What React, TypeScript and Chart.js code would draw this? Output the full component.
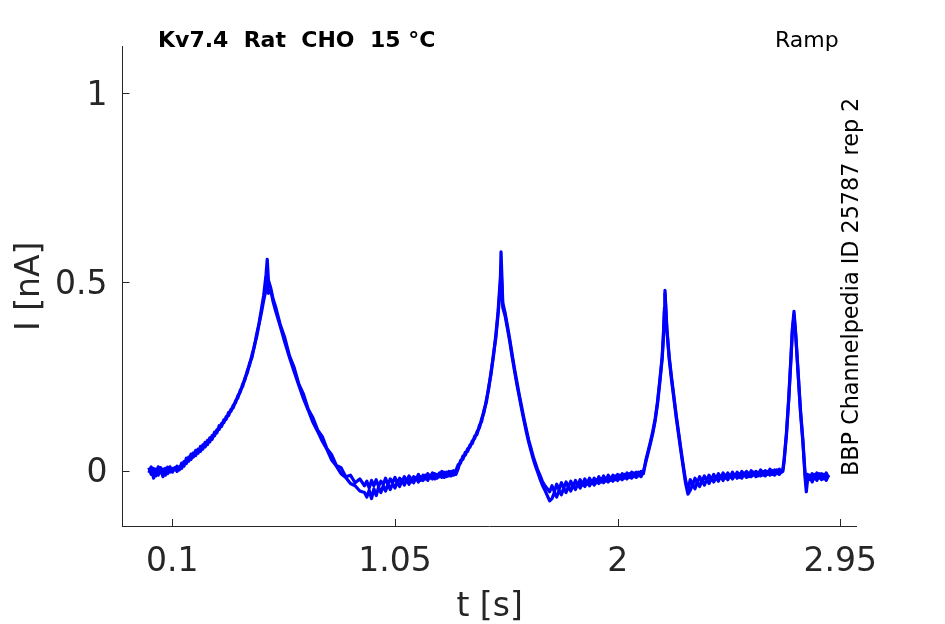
import React, { useEffect, useRef } from "react";
import { Chart, registerables } from "chart.js";

Chart.register(...registerables);

const TITLE = "Kv7.4  Rat  CHO  15 °C";
const PROTOCOL = "Ramp";
const SOURCE = "BBP Channelpedia ID 25787 rep 2";
const X_LABEL = "t [s]";
const Y_LABEL = "I [nA]";
const X_TICKS = [0.1, 1.05, 2, 2.95];
const X_TICK_LABELS = ["0.1", "1.05", "2", "2.95"];
const Y_TICKS = [0, 0.5, 1];
const Y_TICK_LABELS = ["0", "0.5", "1"];
const X_RANGE = [-0.1125, 3.02];
const Y_RANGE = [-0.1467, 1.1236];

// time of each sample [s]
const timeS = [
  0.00, 0.01, 0.02, 0.03, 0.04, 0.05, 0.06, 0.07, 0.08, 0.09, 0.10, 0.11,
  0.12, 0.13, 0.14, 0.15, 0.16, 0.17, 0.18, 0.19, 0.20, 0.21, 0.22, 0.23, 0.24, 0.25, 0.26, 0.27, 0.28, 0.29, 0.30, 0.31, 0.32, 0.33, 0.34, 0.35, 0.36, 0.37, 0.38, 0.39, 0.40,
  0.41, 0.42, 0.43, 0.44, 0.45, 0.46, 0.47, 0.48, 0.49, 0.50, 0.505,
  0.51, 0.52, 0.53, 0.54, 0.56, 0.58, 0.60, 0.62, 0.64, 0.66, 0.68, 0.70, 0.72, 0.74, 0.76, 0.78, 0.80, 0.82, 0.84, 0.86, 0.88, 0.90, 0.92,
  0.93, 0.94, 0.95, 0.96, 0.97, 0.98, 0.99, 1.00, 1.01, 1.02, 1.03, 1.04, 1.05, 1.06, 1.07, 1.08, 1.09, 1.10, 1.11, 1.12, 1.13, 1.14, 1.15, 1.16, 1.17, 1.18, 1.19, 1.20, 1.21, 1.22, 1.23, 1.24, 1.25, 1.26, 1.27, 1.28, 1.29, 1.30, 1.31,
  1.32, 1.33, 1.34, 1.35, 1.36, 1.37, 1.38, 1.39, 1.40, 1.41, 1.42, 1.43, 1.44, 1.45, 1.46, 1.47, 1.48, 1.49, 1.50, 1.5025,
  1.51, 1.52, 1.53, 1.54, 1.55, 1.56, 1.57, 1.58, 1.59, 1.60, 1.61, 1.62, 1.63, 1.64, 1.65, 1.66, 1.67, 1.68, 1.69, 1.70, 1.71,
  1.72, 1.73, 1.74, 1.75, 1.76, 1.77, 1.78, 1.79, 1.80, 1.81, 1.82, 1.83, 1.84, 1.85, 1.86, 1.87, 1.88, 1.89, 1.90, 1.91, 1.92, 1.93, 1.94, 1.95, 1.96, 1.97, 1.98, 1.99, 2.00, 2.01, 2.02, 2.03, 2.04, 2.05, 2.06, 2.07, 2.08, 2.09, 2.10, 2.11,
  2.12, 2.13, 2.14, 2.15, 2.16, 2.17, 2.18, 2.19, 2.195, 2.20, 2.202,
  2.21, 2.22, 2.23, 2.24, 2.25, 2.26, 2.27, 2.28, 2.29, 2.30,
  2.31, 2.32, 2.33, 2.34, 2.35, 2.36, 2.37, 2.38, 2.39, 2.40, 2.41, 2.42, 2.43, 2.44, 2.45, 2.46, 2.47, 2.48, 2.49, 2.50, 2.51, 2.52, 2.53, 2.54, 2.55, 2.56, 2.57, 2.58, 2.59, 2.60, 2.61, 2.62, 2.63, 2.64, 2.65, 2.66, 2.67, 2.68, 2.69, 2.70,
  2.705, 2.71, 2.72, 2.73, 2.74, 2.745, 2.7525,
  2.76, 2.77, 2.78, 2.79, 2.80, 2.805,
  2.81, 2.82, 2.83, 2.84, 2.85, 2.86, 2.87, 2.88, 2.89, 2.90,
];

// current, sweep 1 [nA]
const sweep1 = [
  0.008, -0.010, 0.006, -0.014, 0.010, -0.006, 0.004, -0.012, 0.009, -0.004, 0.006, 0.002,
  0.012, 0.002, 0.020, 0.012, 0.033, 0.025, 0.044, 0.036, 0.054, 0.046, 0.064, 0.057, 0.075, 0.069, 0.087, 0.083, 0.102, 0.100, 0.119, 0.117, 0.135, 0.136, 0.154, 0.157, 0.173, 0.180, 0.199, 0.208, 0.229,
  0.241, 0.265, 0.281, 0.307, 0.328, 0.362, 0.390, 0.428, 0.465, 0.520, 0.560,
  0.505, 0.484, 0.455, 0.436, 0.388, 0.352, 0.304, 0.273, 0.229, 0.202, 0.163, 0.140, 0.108, 0.090, 0.058, 0.042, 0.014, 0.008, -0.016, -0.012, -0.032, -0.022, -0.040,
  -0.028, -0.046, -0.026, -0.040, -0.024, -0.042, -0.028, -0.036, -0.020, -0.038, -0.022, -0.032, -0.018, -0.034, -0.020, -0.030, -0.016, -0.028, -0.014, -0.030, -0.016, -0.024, -0.010, -0.026, -0.012, -0.022, -0.008, -0.020, -0.006, -0.022, -0.010, -0.016, -0.002, -0.018, -0.004, -0.014, -0.002, -0.012, 0.000,
  0.016, 0.020, 0.039, 0.041, 0.058, 0.062, 0.079, 0.085, 0.103, 0.113, 0.138, 0.155, 0.188, 0.217, 0.263, 0.302, 0.358, 0.422, 0.515, 0.580,
  0.445, 0.418, 0.383, 0.347, 0.308, 0.270, 0.236, 0.202, 0.171, 0.139, 0.111, 0.082, 0.060, 0.037, 0.018, 0.000, -0.014, -0.030, -0.040, -0.048, -0.056,
  -0.040, -0.056, -0.036, -0.050, -0.032, -0.046, -0.030, -0.044, -0.028, -0.042, -0.026, -0.040, -0.024, -0.038, -0.022, -0.036, -0.020, -0.034, -0.020, -0.032, -0.016, -0.030, -0.014, -0.028, -0.012, -0.026, -0.012, -0.024, -0.010, -0.022, -0.008, -0.020, -0.006, -0.018, -0.004, -0.016, -0.004, -0.014, -0.002, -0.008,
  0.027, 0.052, 0.077, 0.104, 0.137, 0.182, 0.240, 0.302, 0.357, 0.432, 0.478,
  0.378, 0.302, 0.247, 0.197, 0.147, 0.102, 0.057, 0.014, -0.026, -0.050,
  -0.024, -0.038, -0.020, -0.032, -0.016, -0.030, -0.014, -0.026, -0.012, -0.024, -0.010, -0.022, -0.008, -0.020, -0.006, -0.020, -0.006, -0.018, -0.004, -0.016, -0.004, -0.018, -0.002, -0.014, -0.002, -0.016, 0.000, -0.012, -0.002, -0.014, 0.002, -0.012, 0.000, -0.010, 0.004, -0.010, 0.002, -0.008, 0.004, -0.004,
  0.004, 0.028, 0.098, 0.193, 0.308, 0.372, 0.422,
  0.362, 0.262, 0.162, 0.084, -0.010, -0.040,
  -0.010, -0.024, -0.008, -0.022, -0.006, -0.020, -0.008, -0.022, -0.006, -0.018,
];

// current, sweep 2 [nA]
const sweep2 = [
  -0.006, 0.010, -0.020, 0.004, -0.012, 0.008, -0.016, 0.006, -0.008, 0.010, -0.004, 0.008,
  -0.002, 0.010, 0.006, 0.024, 0.019, 0.036, 0.030, 0.047, 0.040, 0.057, 0.051, 0.068, 0.063, 0.080, 0.076, 0.093, 0.092, 0.108, 0.109, 0.125, 0.127, 0.143, 0.146, 0.162, 0.167, 0.185, 0.193, 0.213, 0.223,
  0.246, 0.259, 0.285, 0.300, 0.332, 0.355, 0.388, 0.418, 0.452, 0.480, 0.505,
  0.470, 0.478, 0.448, 0.425, 0.384, 0.340, 0.300, 0.262, 0.226, 0.190, 0.160, 0.128, 0.104, 0.078, 0.056, 0.028, 0.012, -0.008, -0.018, -0.034, -0.040, -0.054, -0.058,
  -0.070, -0.052, -0.074, -0.048, -0.066, -0.044, -0.058, -0.040, -0.054, -0.036, -0.050, -0.034, -0.046, -0.030, -0.042, -0.026, -0.038, -0.024, -0.036, -0.020, -0.032, -0.018, -0.030, -0.016, -0.026, -0.012, -0.026, -0.012, -0.022, -0.008, -0.020, -0.006, -0.018, -0.004, -0.016, -0.002, -0.014, 0.000, -0.010,
  0.006, 0.027, 0.030, 0.049, 0.051, 0.068, 0.072, 0.091, 0.096, 0.119, 0.131, 0.161, 0.181, 0.223, 0.256, 0.308, 0.350, 0.415, 0.495, 0.540,
  0.432, 0.410, 0.376, 0.341, 0.301, 0.265, 0.229, 0.197, 0.164, 0.134, 0.104, 0.077, 0.053, 0.031, 0.011, -0.006, -0.024, -0.040, -0.052, -0.066, -0.080,
  -0.074, -0.058, -0.070, -0.052, -0.064, -0.046, -0.058, -0.042, -0.054, -0.038, -0.050, -0.034, -0.046, -0.032, -0.042, -0.028, -0.040, -0.026, -0.038, -0.024, -0.034, -0.022, -0.032, -0.020, -0.030, -0.018, -0.028, -0.014, -0.026, -0.012, -0.024, -0.010, -0.022, -0.008, -0.020, -0.006, -0.018, -0.004, -0.016, -0.002,
  0.022, 0.047, 0.072, 0.099, 0.132, 0.176, 0.234, 0.296, 0.350, 0.425, 0.470,
  0.372, 0.296, 0.241, 0.191, 0.141, 0.096, 0.051, 0.008, -0.034, -0.062,
  -0.052, -0.036, -0.048, -0.030, -0.042, -0.026, -0.038, -0.024, -0.034, -0.020, -0.030, -0.018, -0.028, -0.014, -0.026, -0.012, -0.024, -0.012, -0.022, -0.010, -0.020, -0.008, -0.020, -0.006, -0.018, -0.006, -0.016, -0.004, -0.016, -0.004, -0.014, -0.002, -0.014, -0.002, -0.012, 0.000, -0.012, 0.002, -0.010, 0.000,
  -0.002, 0.022, 0.092, 0.186, 0.300, 0.364, 0.412,
  0.356, 0.256, 0.156, 0.078, -0.020, -0.056,
  -0.026, -0.012, -0.030, -0.010, -0.026, -0.008, -0.024, -0.010, -0.026, -0.012,
];

const AXIS_COLOR = "#262626";
const LINE_COLOR = "#0000ff";
const FONT = "DejaVu Sans";

const decorPlugin = {
  id: "decor",
  afterDatasetsDraw(chart: any) {
    const { ctx, chartArea, scales } = chart;
    const xs = scales.x;
    const ys = scales.y;
    ctx.save();
    ctx.strokeStyle = AXIS_COLOR;
    ctx.lineWidth = 1;
    ctx.beginPath();
    for (const v of X_TICKS) {
      const px = Math.round(xs.getPixelForValue(v)) + 0.5;
      ctx.moveTo(px, chartArea.bottom);
      ctx.lineTo(px, chartArea.bottom - 7);
    }
    for (const v of Y_TICKS) {
      const py = Math.round(ys.getPixelForValue(v)) + 0.5;
      ctx.moveTo(chartArea.left, py);
      ctx.lineTo(chartArea.left + 7, py);
    }
    ctx.stroke();

    ctx.fillStyle = "#000000";
    ctx.textAlign = "left";
    ctx.textBaseline = "alphabetic";
    ctx.font = `bold 22px "${FONT}"`;
    ctx.fillText(TITLE, 158, 47);
    ctx.font = `22px "${FONT}"`;
    ctx.fillText(PROTOCOL, 775, 46.5);
    ctx.translate(858, 476);
    ctx.rotate(-Math.PI / 2);
    ctx.font = `22.3px "${FONT}"`;
    ctx.fillText(SOURCE, 0, 0);
    ctx.restore();
  },
};

export default function App() {
  const ref = useRef<HTMLCanvasElement>(null);

  useEffect(() => {
    const canvas = ref.current;
    if (!canvas) return;
    const mk = (vals: number[]) => timeS.map((t, i) => ({ x: t, y: vals[i] }));
    const ds = (label: string, vals: number[]) => ({
      label,
      data: mk(vals),
      borderColor: LINE_COLOR,
      backgroundColor: LINE_COLOR,
      borderWidth: 3.2,
      borderJoinStyle: "round" as const,
      pointRadius: 0,
      fill: false,
      tension: 0,
    });
    const chart = new Chart(canvas, {
      type: "line",
      data: { datasets: [ds("sweep 1", sweep1), ds("sweep 2", sweep2)] },
      options: {
        animation: false,
        responsive: false,
        layout: { padding: { left: 0, top: 46.7, right: 88.3, bottom: 0 } },
        plugins: {
          legend: { display: false },
          tooltip: { enabled: false },
        },
        scales: {
          x: {
            type: "linear",
            position: "bottom",
            min: X_RANGE[0],
            max: X_RANGE[1],
            afterBuildTicks: (s: any) => {
              s.ticks = X_TICKS.map((v) => ({ value: v }));
            },
            afterFit: (s: any) => {
              s.height = 98;
            },
            grid: { display: false, drawTicks: false },
            border: { display: true, color: AXIS_COLOR, width: 1 },
            ticks: {
              autoSkip: false,
              maxRotation: 0,
              padding: 17,
              color: AXIS_COLOR,
              font: { family: FONT, size: 33 },
              callback: (_v: any, i: number) => X_TICK_LABELS[i],
            },
            title: {
              display: true,
              text: X_LABEL,
              color: AXIS_COLOR,
              font: { family: FONT, size: 33, lineHeight: 1.03 },
              padding: { top: 0, bottom: 0 },
            },
          },
          y: {
            type: "linear",
            position: "left",
            min: Y_RANGE[0],
            max: Y_RANGE[1],
            afterBuildTicks: (s: any) => {
              s.ticks = Y_TICKS.map((v) => ({ value: v }));
            },
            afterFit: (s: any) => {
              s.width = 122.5;
            },
            grid: { display: false, drawTicks: false },
            border: { display: true, color: AXIS_COLOR, width: 1 },
            ticks: {
              autoSkip: false,
              padding: 15,
              labelOffset: 3,
              color: AXIS_COLOR,
              font: { family: FONT, size: 33 },
              callback: (_v: any, i: number) => Y_TICK_LABELS[i],
            },
            title: {
              display: true,
              text: Y_LABEL,
              color: AXIS_COLOR,
              font: { family: FONT, size: 33 },
              padding: { top: 11, bottom: 0 },
            },
          },
        },
      },
      plugins: [decorPlugin],
    } as any);
    return () => chart.destroy();
  }, []);

  return (
    <div style={{ position: "absolute", left: 0, top: 0, width: 945, height: 624, background: "#ffffff" }}>
      <canvas ref={ref} width={945} height={624} style={{ display: "block" }} />
    </div>
  );
}
